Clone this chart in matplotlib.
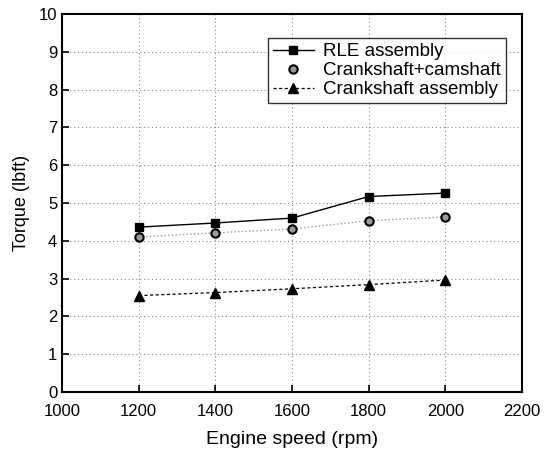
import matplotlib
matplotlib.use('Agg')
import matplotlib.pyplot as plt

plt.rcParams['font.family'] = ['Liberation Sans', 'DejaVu Sans']

# Data
engine_speed = [1200, 1400, 1600, 1800, 2000]
rle_assembly = [4.36, 4.47, 4.60, 5.17, 5.26]
crank_cam = [4.10, 4.21, 4.31, 4.53, 4.63]
crank_assembly = [2.55, 2.63, 2.73, 2.84, 2.96]

fig = plt.figure(figsize=(5.6, 4.49), dpi=100)
ax = fig.add_axes([0.111, 0.127, 0.821, 0.842])

ax.plot(engine_speed, rle_assembly, '-', color='black', linewidth=1.0,
        marker='s', markersize=6, label='RLE assembly')
ax.plot(engine_speed, crank_cam, ':', color='#999999', linewidth=1.0,
        marker='o', markersize=6, markerfacecolor='#999999',
        markeredgecolor='black', markeredgewidth=1.5, label='Crankshaft+camshaft')
ax.plot(engine_speed, crank_assembly, '--', color='black', linewidth=0.9,
        dashes=(2.5, 2), marker='^', markersize=7, label='Crankshaft assembly')

ax.set_xlim(1000, 2200)
ax.set_ylim(0, 10)
ax.set_xticks(range(1000, 2201, 200))
ax.set_yticks(range(0, 11))
ax.tick_params(direction='in', length=5, width=1.2, labelsize=12,
               top=False, right=False)
ax.tick_params(axis='x', pad=9)
ax.grid(True, color='#888888', linestyle=(0, (1, 2.5)), linewidth=0.8)
for s in ax.spines.values():
    s.set_linewidth(1.5)

ax.set_xlabel('Engine speed (rpm)', fontsize=14, labelpad=8)
ax.set_ylabel('Torque (lbft)', fontsize=13, labelpad=6)

leg = ax.legend(loc='upper right', bbox_to_anchor=(0.985, 0.96), fontsize=13.5,
                frameon=True, fancybox=False, edgecolor='black',
                handlelength=2.2, borderpad=0.25, labelspacing=0.1,
                handletextpad=0.5)
leg.get_frame().set_linewidth(1.0)
leg.get_lines()[1].set_linestyle('None')

fig.savefig('out.png', dpi=100)
